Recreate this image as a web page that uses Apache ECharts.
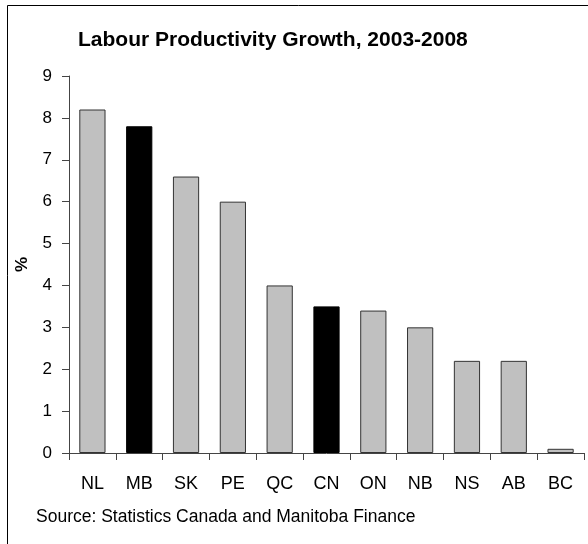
<!DOCTYPE html>
<html><head><meta charset="utf-8">
<script src="https://cdn.jsdelivr.net/npm/echarts@6/dist/echarts.min.js"></script>
<style>html,body{margin:0;padding:0;background:#fff}#c{width:588px;height:544px}</style>
</head><body><div id="c"></div>
<script>
const categories = ['NL','MB','SK','PE','QC','CN','ON','NB','NS','AB','BC'];
const values = [8.2, 7.8, 6.6, 6.0, 4.0, 3.5, 3.4, 3.0, 2.2, 2.2, 0.1];
const highlighted = ['MB','CN'];
const yTicks = [0,1,2,3,4,5,6,7,8,9];

const font = 'Arial, "Liberation Sans", sans-serif';
const chart = echarts.init(document.getElementById('c'), null, {renderer:'canvas'});
chart.setOption({
  animation: false,
  backgroundColor: '#fff',
  title: {
    text: 'Labour Productivity Growth, 2003-2008',
    left: 73, top: 25,
    textStyle: {fontFamily: font, fontSize: 21, fontWeight: 'bold', color: '#000'}
  },
  grid: {left: 69, right: 4, top: 76, bottom: 91, containLabel: false},
  xAxis: {
    type: 'category', data: categories,
    axisLine: {lineStyle: {color: '#444', width: 1}},
    axisTick: {show: true, alignWithLabel: false, length: 7, lineStyle: {color: '#444'}},
    axisLabel: {fontFamily: font, fontSize: 18, color: '#000', margin: 22, interval: 0}
  },
  yAxis: {
    type: 'value', min: yTicks[0], max: yTicks[yTicks.length-1], interval: 1,
    name: '%', nameLocation: 'middle', nameRotate: 90, nameGap: 38,
    nameTextStyle: {fontFamily: font, fontSize: 17, fontWeight: 'bold', color: '#000'},
    axisLine: {show: true, lineStyle: {color: '#444', width: 1}},
    axisTick: {show: true, length: 7, lineStyle: {color: '#444'}},
    splitLine: {show: false},
    axisLabel: {fontFamily: font, fontSize: 17, color: '#000', margin: 17}
  },
  series: [{
    type: 'bar',
    barWidth: '56%',
    data: values.map((v, i) => ({
      value: v,
      itemStyle: highlighted.includes(categories[i])
        ? {color: '#000', borderColor: '#000', borderWidth: 1}
        : {color: '#c0c0c0', borderColor: '#333', borderWidth: 1}
    }))
  }],
  graphic: [
    {type: 'rect', shape: {x: 7.5, y: 5.5, width: 700, height: 700}, style: {fill: 'none', stroke: '#000', lineWidth: 1}, silent: true, z: 10},
    {type: 'text', left: 36, top: 508, style: {text: 'Source: Statistics Canada and Manitoba Finance', font: '17.5px ' + font, fill: '#000'}}
  ]
});
</script></body></html>
